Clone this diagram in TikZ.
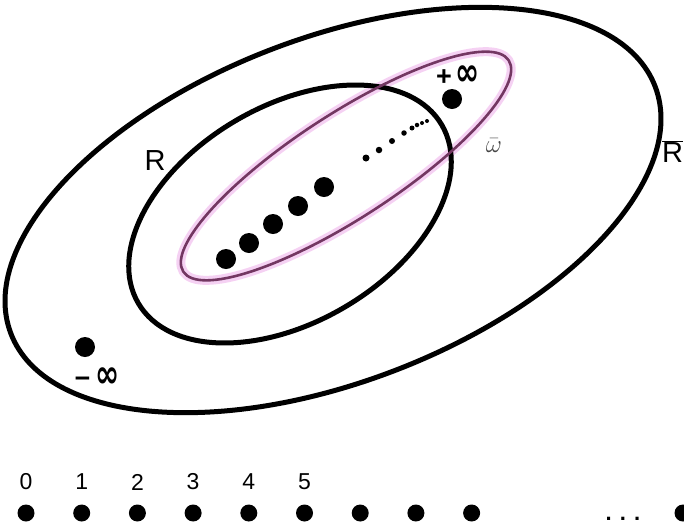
\documentclass[tikz,border=0pt]{standalone}
\usepackage{fontspec}
\setmainfont{Liberation Sans}
\newfontfamily\dejavu{DejaVu Sans}
\definecolor{glow}{RGB}{242,190,238}
\definecolor{core}{RGB}{115,55,98}
\definecolor{omgray}{RGB}{70,70,70}
\newcommand{\infsym}{{\fontsize{29}{29}\selectfont\dejavu\bfseries\scalebox{1.0}[1.35]{∞}}}
\tikzset{
  bigline/.style={line width=5pt, black},
  bigdot/.style={circle, fill=black, inner sep=0pt, minimum size=20pt},
  numdot/.style={circle, fill=black, inner sep=0pt, minimum size=17pt},
  tinydot/.style={circle, fill=black, inner sep=0pt},
  lbl/.style={inner sep=0pt, font=\fontsize{29}{29}\selectfont},
  numlbl/.style={inner sep=0pt, font=\fontsize{23}{23}\selectfont},
  inflbl/.style={inner sep=0pt, font=\fontsize{27}{27}\selectfont\bfseries},
}
\begin{document}
\begin{tikzpicture}[x=1pt,y=-1pt]
\useasboundingbox[fill=white] (0,0) rectangle (684,528);
\clip (0,0) rectangle (684,528);
% magenta glow (omega-bar set)
\begin{scope}[shift={(346,166)},rotate=33]
  \draw[glow, line width=9pt, opacity=0.7] (0,0) ellipse [x radius=194pt, y radius=52pt];
\end{scope}
% outer set R-bar
\begin{scope}[shift={(333,210)},rotate=21]
  \draw[bigline] (0,0) ellipse [x radius=345pt, y radius=172pt];
\end{scope}
% inner set R
\begin{scope}[shift={(290,214)},rotate=30.5]
  \draw[bigline] (0,0) ellipse [x radius=176pt, y radius=108pt];
\end{scope}
% magenta core
\begin{scope}[shift={(346,166)},rotate=33]
  \draw[core, line width=2.6pt] (0,0) ellipse [x radius=194pt, y radius=52pt];
\end{scope}
% dots in omega-bar
\node[bigdot] (d1) at (226,259) {};
\node[bigdot] (d2) at (249,243) {};
\node[bigdot] (d3) at (273,224) {};
\node[bigdot] (d4) at (298,206) {};
\node[bigdot] (d5) at (324,187) {};
\node[tinydot, minimum size=7pt] (s1) at (366,158) {};
\node[tinydot, minimum size=6.5pt] (s2) at (379,150) {};
\node[tinydot, minimum size=6pt] (s3) at (392,141) {};
\node[tinydot, minimum size=5.5pt] (s4) at (404,133) {};
\node[tinydot, minimum size=5pt] (s5) at (412,128) {};
\node[tinydot, minimum size=4.5pt] (s6) at (417,125) {};
\node[tinydot, minimum size=4pt] (s7) at (422,123) {};
\node[tinydot, minimum size=4pt] (s8) at (427,121) {};
\node[bigdot] (pinf) at (452,99) {};
\node[bigdot] (minf) at (85,347) {};
% labels
\node[inflbl] (pinflbl) at (458,76) {+\hspace{4pt}\infsym};
\node[inflbl] (minflbl) at (97,378) {−\hspace{5pt}\infsym};
\node[lbl] (Rlbl) at (155,161) {R};
\node[lbl, anchor=west] (Rbarlbl) at (662,152) {$\overline{\hbox{R}}$};
\node[inner sep=0pt, text=omgray, font=\fontsize{38}{38}\selectfont] (omlbl) at (494,146) {$\bar{\omega}$};
% bottom row
\foreach \i in {0,...,8} {
  \node[numdot] (b\i) at ({26+55.7*\i},513) {};
}
\foreach \i in {0,...,5} {
  \node[numlbl] (n\i) at ({26+55.7*\i},482) {\i};
}
\node[inner sep=0pt, font=\fontsize{22}{22}\selectfont\bfseries] (ell) at (623,519) {. . .};
\node[numdot] (blast) at (683,513) {};
\end{tikzpicture}
\end{document}
